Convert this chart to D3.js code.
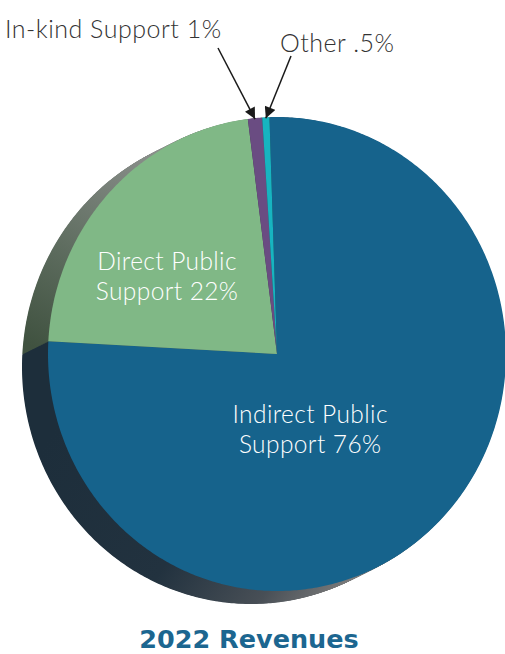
<!DOCTYPE html>
<html>
<head>
<meta charset="utf-8">
<script src="https://cdn.jsdelivr.net/npm/d3@7"></script>
<style>
  body { margin: 0; background: #fff; }
</style>
</head>
<body>
<div id="chart"></div>
<script>
// data
var categories = ["Indirect Public Support", "Direct Public Support", "In-kind Support", "Other"];
var values = [76, 22, 1, 0.5];
var labelLines = [["Indirect Public", "Support 76%"], ["Direct Public", "Support 22%"], ["In-kind Support 1%"], ["Other .5%"]];
var colors = ["#16638c", "#80b886", "#6a4c82", "#17b4c0"];
var title = "2022 Revenues";

var width = 505, height = 654;
var cx = 277, cy = 354, rx = 229, ry = 237;
var depth = {x: -26, y: 13};

var svg = d3.select("#chart").append("svg")
    .attr("width", width)
    .attr("height", height);

var defs = svg.append("defs");

// side gradients
var gGreen = defs.append("linearGradient").attr("id", "sideGreen")
    .attr("gradientUnits", "userSpaceOnUse")
    .attr("x1", 140).attr("y1", 145).attr("x2", 30).attr("y2", 345);
gGreen.append("stop").attr("offset", 0).attr("stop-color", "#8a8f8b");
gGreen.append("stop").attr("offset", 0.6).attr("stop-color", "#5b6a5c");
gGreen.append("stop").attr("offset", 1).attr("stop-color", "#405240");

var gBlue = defs.append("linearGradient").attr("id", "sideBlue")
    .attr("gradientUnits", "userSpaceOnUse")
    .attr("x1", 60).attr("y1", 420).attr("x2", 340).attr("y2", 600);
gBlue.append("stop").attr("offset", 0).attr("stop-color", "#1d2e3b");
gBlue.append("stop").attr("offset", 0.5).attr("stop-color", "#22323f");
gBlue.append("stop").attr("offset", 0.8).attr("stop-color", "#484f56");
gBlue.append("stop").attr("offset", 1).attr("stop-color", "#7c7c7c");

var sideFill = ["url(#sideBlue)", "url(#sideGreen)", "#3a2e45", "#0f5e63"];

var pie = d3.pie().sort(null)
    .startAngle(-0.033)
    .endAngle(2 * Math.PI - 0.033);
var arcs = pie(values);

// elliptical slice as a polygon: centre + points along the rim
var line = d3.line();
function slicePath(d, ox, oy) {
    var n = Math.max(2, Math.ceil((d.endAngle - d.startAngle) / 0.01));
    var pts = [[ox, oy]];
    for (var k = 0; k <= n; k++) {
        var a = d.startAngle + (d.endAngle - d.startAngle) * k / n;
        pts.push([ox + Math.sin(a) * rx, oy - Math.cos(a) * ry]);
    }
    return line(pts) + "Z";
}

// extrusion: stacked copies of each slice from the back face up to the front
var steps = d3.range(1, 0, -1 / 40);
var side = svg.append("g");
steps.forEach(function(t) {
    side.append("g")
      .selectAll("path")
      .data(arcs).enter()
      .append("path")
        .attr("d", function(d) { return slicePath(d, cx + depth.x * t, cy + depth.y * t); })
        .attr("fill", function(d, i) { return sideFill[i]; });
});

// front face
svg.append("g")
  .selectAll("path")
  .data(arcs).enter()
  .append("path")
    .attr("d", function(d) { return slicePath(d, cx, cy); })
    .attr("fill", function(d, i) { return colors[i]; });

var labelFont = "Lato, 'Open Sans', sans-serif";

// inner labels (position in unit-ellipse coords)
var innerPos = [[0.145, 0.305], [-0.48, -0.34]];
[0, 1].forEach(function(i) {
    var x = cx + innerPos[i][0] * rx;
    var t = svg.append("text")
        .attr("x", x)
        .attr("y", cy + innerPos[i][1] * ry)
        .attr("text-anchor", "middle")
        .style("font-family", labelFont)
        .style("font-weight", 300)
        .style("font-size", "24.5px")
        .style("letter-spacing", "0.4px")
        .style("fill", "#fff");
    labelLines[i].forEach(function(l, k) {
        t.append("tspan")
            .attr("x", x)
            .attr("dy", k == 0 ? "-0.15em" : "1.22em")
            .text(l);
    });
});

// outer labels with arrows
defs.append("marker").attr("id", "head")
    .attr("viewBox", "0 0 10 10")
    .attr("refX", 10).attr("refY", 5)
    .attr("markerWidth", 8.5).attr("markerHeight", 7.5)
    .attr("markerUnits", "strokeWidth")
    .attr("orient", "auto")
  .append("path")
    .attr("d", "M0,0 L10,5 L0,10 z")
    .attr("fill", "#1a1a1a");

var outer = [
    {i: 2, tx: 5, ty: 38, ax: 218, ay: 48},
    {i: 3, tx: 280, ty: 52, ax: 291, ay: 56}
];
outer.forEach(function(o) {
    var a = (arcs[o.i].startAngle + arcs[o.i].endAngle) / 2;
    var px = cx + Math.sin(a) * rx, py = cy - Math.cos(a) * ry;
    svg.append("line")
        .attr("x1", o.ax).attr("y1", o.ay)
        .attr("x2", px).attr("y2", py + 1)
        .attr("stroke", "#1a1a1a")
        .attr("stroke-width", 1.5)
        .attr("marker-end", "url(#head)");
    svg.append("text")
        .attr("x", o.tx).attr("y", o.ty)
        .style("font-family", labelFont)
        .style("font-weight", 300)
        .style("font-size", "25px")
        .style("letter-spacing", "0.5px")
        .style("fill", "#333")
        .text(labelLines[o.i][0]);
});

// title
svg.append("text")
    .attr("x", 249).attr("y", 648)
    .attr("text-anchor", "middle")
    .style("font-family", "'DejaVu Sans', sans-serif")
    .style("font-weight", "bold")
    .style("font-size", "25.5px")
    .style("fill", "#1c6690")
    .text(title);
</script>
</body>
</html>
